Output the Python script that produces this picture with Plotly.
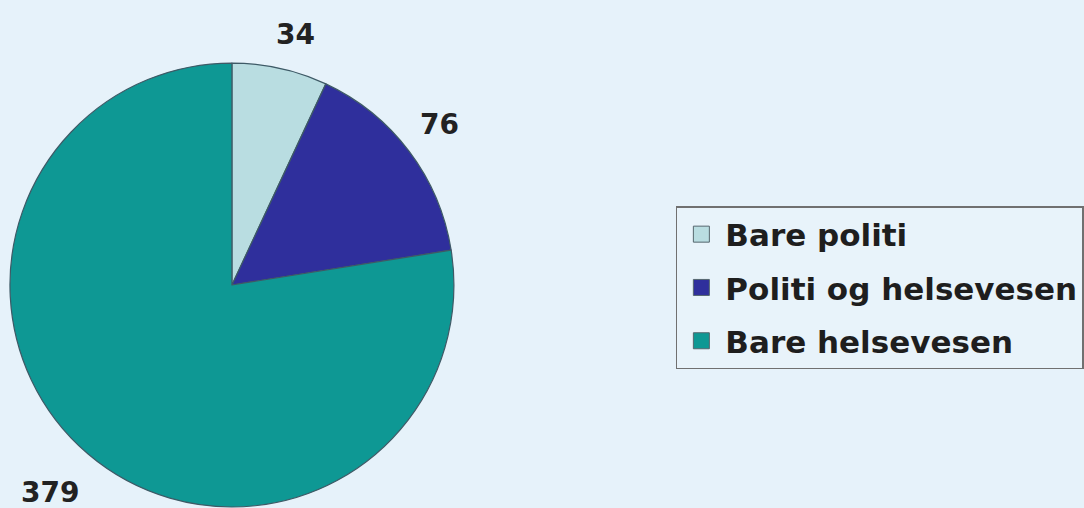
import plotly.graph_objects as go

categories = ["Bare politi", "Politi og helsevesen", "Bare helsevesen"]
counts = [34, 76, 379]
colors = ["#B9DDE1", "#2F2F9C", "#0E9894"]

# value label anchor positions (paper coords)
label_x = [0.274, 0.407, 0.046]
label_y = [0.933, 0.754, 0.031]

FONT = "DejaVu Sans, Liberation Sans, Arial, sans-serif"

fig = go.Figure()
fig.add_trace(go.Pie(
    labels=categories,
    values=counts,
    marker=dict(colors=colors, line=dict(color="#3E5A66", width=1.2)),
    sort=False,
    direction="clockwise",
    rotation=0,
    textinfo="none",
    hoverinfo="label+value",
    showlegend=False,
    domain=dict(x=[10 / 1084, 456 / 1084], y=[0, 446 / 508]),
))

# legend entries, one group each so the rows can be spaced apart
for i, (cat, col) in enumerate(zip(categories, colors)):
    fig.add_trace(go.Scatter(
        x=[None], y=[None], mode="markers", name=f"<b>{cat}</b>",
        legendgroup=f"g{i}",
        marker=dict(symbol="square", size=16, color=col,
                    line=dict(color="#55666E", width=1)),
        hoverinfo="skip",
    ))

for v, x, y in zip(counts, label_x, label_y):
    fig.add_annotation(
        x=x, y=y, xref="paper", yref="paper",
        text=f"<b>{v}</b>", showarrow=False,
        font=dict(family=FONT, size=28, color="#222222"),
        xanchor="center", yanchor="middle",
    )

fig.update_layout(
    width=1084, height=508,
    margin=dict(l=0, r=0, t=0, b=0),
    paper_bgcolor="#E6F2FA",
    plot_bgcolor="#E6F2FA",
    xaxis=dict(visible=False),
    yaxis=dict(visible=False),
    showlegend=True,
    legend=dict(
        x=679 / 1084, y=1 - 206 / 508, xanchor="left", yanchor="top",
        bgcolor="#E8F3FA", bordercolor="#707070", borderwidth=1.5,
        font=dict(family=FONT, size=31, color="#1E1E1E"),
        traceorder="grouped",
        tracegroupgap=10,
        itemwidth=38,
        itemsizing="trace",
    ),
)

fig.write_html("out.html")
